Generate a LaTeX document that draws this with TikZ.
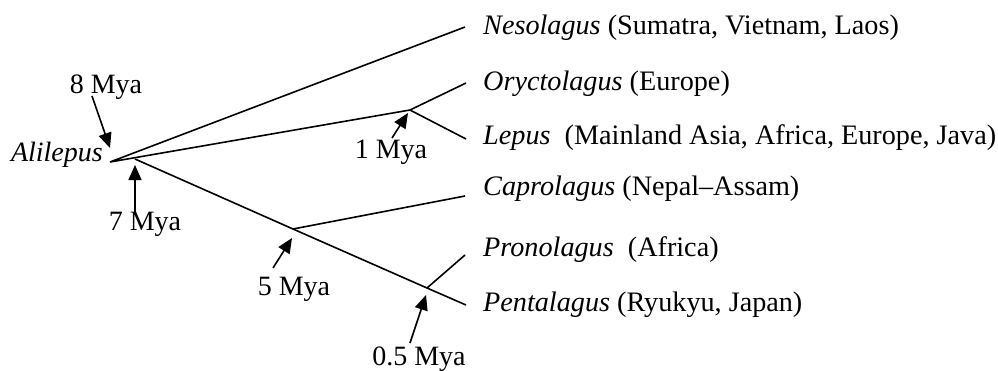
\documentclass[tikz,border=0pt]{standalone}
\usepackage{fontspec}
\setmainfont{Liberation Serif}
\usetikzlibrary{arrows.meta}
\begin{document}
\begin{tikzpicture}[x=1pt,y=-1pt,
  branch/.style={line width=1.6pt},
  pointer/.style={line width=1.6pt,-{Triangle[length=15pt,width=13pt]}},
  taxon/.style={anchor=base west,inner sep=0pt,font=\fontsize{28.2}{32}\selectfont},
  age/.style={anchor=base,inner sep=0pt,font=\fontsize{28}{32}\selectfont}]
\useasboundingbox (0,0) rectangle (998,370);

% branching points
\coordinate (root) at (110,162);
\coordinate (n7)   at (135,159);
\coordinate (n1)   at (410,110);
\coordinate (n5)   at (293,229);
\coordinate (n05)  at (427,288);

% branch tips
\coordinate (tNes) at (465,27);
\coordinate (tOry) at (466,83);
\coordinate (tLep) at (466,139);
\coordinate (tCap) at (465,196);
\coordinate (tPro) at (465,255);
\coordinate (tPen) at (466,305);

% tree
\draw[branch] (tNes) -- (root) -- (n1) -- (tOry);
\draw[branch] (n1) -- (tLep);
\draw[branch] (n7) -- (n5) -- (n05) -- (tPen);
\draw[branch] (n5) -- (tCap);
\draw[branch] (n05) -- (tPro);

% taxa
\node[taxon] (Nes) at (483,34)  {\textit{Nesolagus} (Sumatra, Vietnam, Laos)};
\node[taxon] (Ory) at (483,90)  {\textit{Oryctolagus} (Europe)};
\node[taxon] (Lep) at (483,144) {\textit{Lepus}\ \ (Mainland Asia, Africa, Europe, Java)};
\node[taxon] (Cap) at (483,195) {\textit{Caprolagus} (Nepal–Assam)};
\node[taxon] (Pro) at (483,256) {\textit{Pronolagus}\ \ (Africa)};
\node[taxon] (Pen) at (483,311) {\textit{Pentalagus} (Ryukyu, Japan)};
\node[anchor=base east,inner sep=0pt,font=\fontsize{28}{32}\selectfont] (Ali) at (103,161) {\textit{Alilepus}};

% divergence ages
\node[age] (m8)  at (106,93)  {8 Mya};
\node[age] (m7)  at (145,230) {7 Mya};
\node[age] (m1)  at (391,158) {1 Mya};
\node[age] (m5)  at (294,295) {5 Mya};
\node[age] (m05) at (419,365) {0.5 Mya};

% pointers
\coordinate (p8s)  at (92,96);   \coordinate (p8e)  at (110,148);
\coordinate (p7s)  at (135,215); \coordinate (p7e)  at (135,165);
\coordinate (p1s)  at (392,138); \coordinate (p1e)  at (408,113);
\coordinate (p5s)  at (273,268); \coordinate (p5e)  at (292,238);
\coordinate (p05s) at (410,343); \coordinate (p05e) at (426,295);
\draw[pointer] (p8s) -- (p8e);
\draw[pointer] (p7s) -- (p7e);
\draw[pointer] (p1s) -- (p1e);
\draw[pointer] (p5s) -- (p5e);
\draw[pointer] (p05s) -- (p05e);
\end{tikzpicture}
\end{document}
